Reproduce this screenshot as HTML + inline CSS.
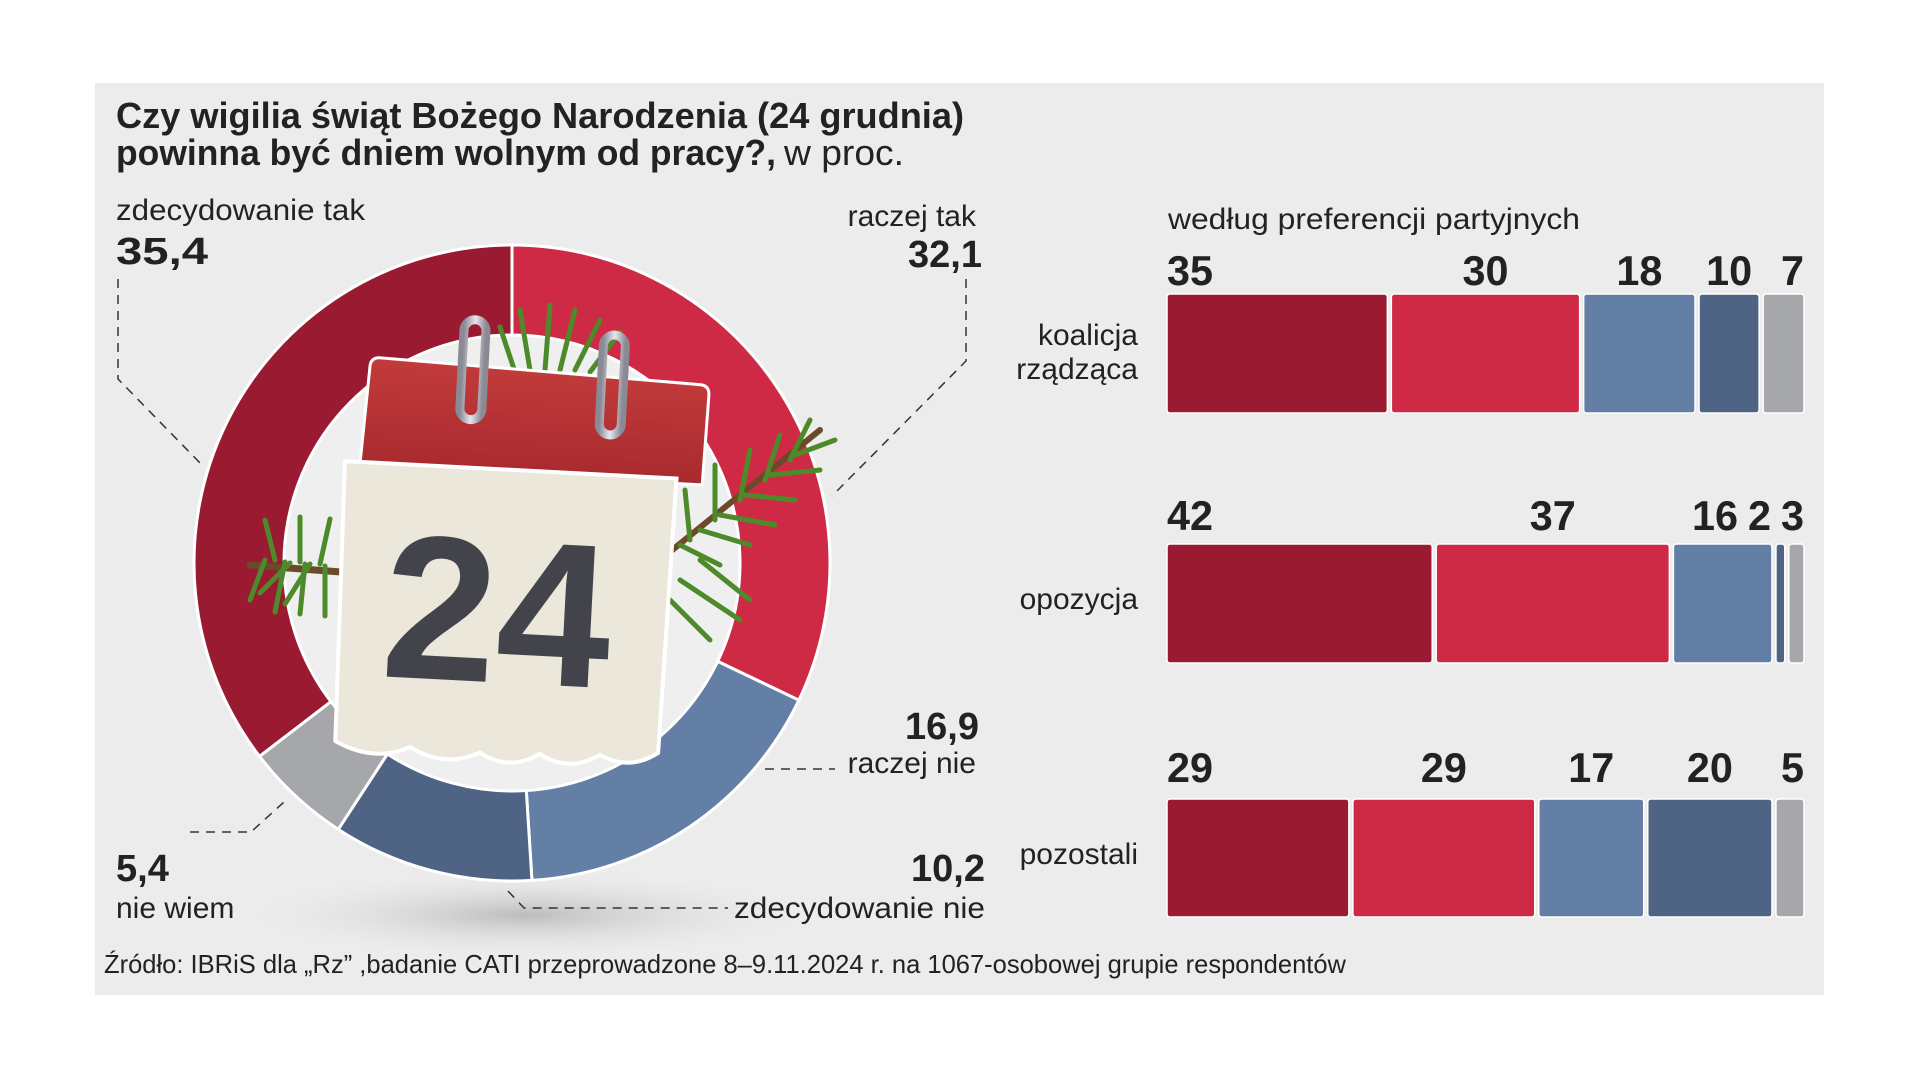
<!DOCTYPE html>
<html><head><meta charset="utf-8"><style>
html,body{margin:0;padding:0;background:#fff;}
svg{display:block;font-family:"Liberation Sans",sans-serif;}
</style></head><body>
<svg id="chart" width="1919" height="1080" viewBox="0 0 1919 1080">
<defs>
<radialGradient id="shadow" cx="0.5" cy="0.5" r="0.5"><stop offset="0" stop-color="#bcbcbc"/><stop offset="1" stop-color="#ececec" stop-opacity="0"/></radialGradient>
<linearGradient id="hdr" x1="0" y1="0" x2="0" y2="1"><stop offset="0" stop-color="#c33b3b"/><stop offset="1" stop-color="#a82a2e"/></linearGradient>
<linearGradient id="ring" x1="0" y1="0" x2="1" y2="0"><stop offset="0" stop-color="#8a8a95"/><stop offset="0.5" stop-color="#e6e6ee"/><stop offset="1" stop-color="#8a8a95"/></linearGradient>
</defs>
<rect x="95" y="83" width="1729" height="912" fill="#ececec"/>
<text x="116" y="128" font-size="36" font-weight="bold" fill="#222" textLength="848" lengthAdjust="spacingAndGlyphs">Czy wigilia świąt Bożego Narodzenia (24 grudnia)</text>
<text x="116" y="165" font-size="36" fill="#222"><tspan font-weight="bold" textLength="660" lengthAdjust="spacingAndGlyphs">powinna być dniem wolnym od pracy?,</tspan><tspan dx="8" textLength="120" lengthAdjust="spacingAndGlyphs">w proc.</tspan></text>
<ellipse cx="526" cy="915" rx="300" ry="45" fill="url(#shadow)"/>
<g id="donut"></g>
<g id="calendar">
 <g stroke="#4d8a2a" stroke-width="5" stroke-linecap="round" fill="none">
  <path d="M250 565 L380 575" stroke="#6b4a2a" stroke-width="7"/>
  <path d="M265 560 l-15 40 M285 562 l-10 50 M305 564 l-5 50 M325 566 l0 50 M275 560 l-10 -40 M300 562 l0 -45 M320 564 l10 -45 M345 566 l10 -40 M290 563 l-30 30 M310 564 l-25 40"/>
  <path d="M660 560 L820 430" stroke="#6b4a2a" stroke-width="6"/>
  <path d="M680 545 l40 20 M700 530 l50 15 M720 515 l55 10 M745 495 l50 5 M770 475 l50 -5 M795 455 l40 -15 M690 540 l-5 -50 M715 520 l0 -55 M740 500 l10 -50 M765 480 l15 -45 M790 460 l20 -40 M700 560 l50 40 M680 580 l60 40 M670 600 l40 40"/>
  <path d="M530 370 l-10 -60 M545 370 l5 -65 M560 370 l15 -60 M575 370 l25 -50 M590 372 l30 -40 M515 372 l-15 -45"/>
 </g>
 <g transform="rotate(3 512 560)">
  <path d="M360 375 Q360 365 370 365 L690 375 Q700 375 700 385 L698 475 L355 475 Z" fill="url(#hdr)" stroke="#fff" stroke-width="3"/>
  <path d="M340 470 L672 470 L668 745 Q640 765 610 750 Q580 770 550 752 Q520 772 490 754 Q455 772 420 752 Q385 770 345 750 Z" fill="#ebe7da" stroke="#fff" stroke-width="4"/>
  <rect x="452" y="322" width="22" height="100" rx="11" fill="none" stroke="url(#ring)" stroke-width="9"/>
  <rect x="592" y="330" width="22" height="100" rx="11" fill="none" stroke="url(#ring)" stroke-width="9"/>
  <text x="500" y="683" font-size="205" font-weight="bold" fill="#43434b" text-anchor="middle">24</text>
 </g>
</g>
<g id="callouts" stroke="#333" stroke-width="1.5" stroke-dasharray="9 7" fill="none">
 <polyline points="118,279 118,379 202,465"/>
 <polyline points="966,279 966,361 832,496"/>
 <polyline points="765,769 835,769"/>
 <polyline points="508,891 524,908 728,908"/>
 <polyline points="190,832 251,832 284,802"/>
</g>
<g fill="#222">
 <text x="116" y="220" font-size="30" textLength="249" lengthAdjust="spacingAndGlyphs">zdecydowanie tak</text>
 <text x="116" y="264" font-size="38" font-weight="bold" textLength="92" lengthAdjust="spacingAndGlyphs">35,4</text>
 <text x="976" y="226" font-size="30" text-anchor="end">raczej tak</text>
 <text x="982" y="267" font-size="38" font-weight="bold" text-anchor="end">32,1</text>
 <text x="979" y="739" font-size="38" font-weight="bold" text-anchor="end">16,9</text>
 <text x="976" y="773" font-size="30" text-anchor="end">raczej nie</text>
 <text x="985" y="881" font-size="38" font-weight="bold" text-anchor="end">10,2</text>
 <text x="985" y="918" font-size="30" text-anchor="end" textLength="251" lengthAdjust="spacingAndGlyphs">zdecydowanie nie</text>
 <text x="116" y="881" font-size="38" font-weight="bold">5,4</text>
 <text x="116" y="918" font-size="30">nie wiem</text>
 <text x="1168" y="229" font-size="30" textLength="412" lengthAdjust="spacingAndGlyphs">według preferencji partyjnych</text>
 <text x="104" y="973" font-size="26" textLength="1242" lengthAdjust="spacingAndGlyphs">Źródło: IBRiS dla „Rz” ,badanie CATI przeprowadzone 8–9.11.2024 r. na 1067-osobowej grupie respondentów</text>
</g>
<g id="bars"></g>
</svg>
<script>
// Donut data (clockwise from top)
const donutCategories = ["raczej tak","raczej nie","zdecydowanie nie","nie wiem","zdecydowanie tak"];
const donutValues = [32.1, 16.9, 10.2, 5.4, 35.4];
// Bar data
const barGroups = ["koalicja rządząca","opozycja","pozostali"];
const barSeriesNames = ["zdecydowanie tak","raczej tak","raczej nie","zdecydowanie nie","nie wiem"];
const barKoalicja = [35, 30, 18, 10, 7];
const barOpozycja = [42, 37, 16, 2, 3];
const barPozostali = [29, 29, 17, 20, 5];

const NS = "http://www.w3.org/2000/svg";
const donutColors = ["#cf2a45","#637fa6","#4f6385","#a6a7ab","#9a1a31"];
const barColors = ["#9a1a31","#cf2a45","#637fa6","#4f6385","#a6a7ab"];
function mk(tag, attrs, parent){const e=document.createElementNS(NS,tag);for(const k in attrs)e.setAttribute(k,attrs[k]);parent.appendChild(e);return e;}

// donut
const cx=512, cy=563, R=318, r=228;
const dg=document.getElementById('donut');
const total=donutValues.reduce((a,b)=>a+b,0);
function pt(rad,a){return [cx+rad*Math.sin(a), cy-rad*Math.cos(a)];}
let acc=0;
donutValues.forEach((v,i)=>{
  const a0=acc/total*2*Math.PI; acc+=v; const a1=acc/total*2*Math.PI;
  const lg=(a1-a0)>Math.PI?1:0;
  const [x0,y0]=pt(R,a0),[x1,y1]=pt(R,a1),[x2,y2]=pt(r,a1),[x3,y3]=pt(r,a0);
  const p=mk('path',{d:`M${x0} ${y0} A${R} ${R} 0 ${lg} 1 ${x1} ${y1} L${x2} ${y2} A${r} ${r} 0 ${lg} 0 ${x3} ${y3} Z`,fill:donutColors[i],stroke:'#fff','stroke-width':3},dg);
  
  
});
mk('circle',{cx:cx,cy:cy,r:r-2,fill:'#efefef'},dg);

// bars
const bg=document.getElementById('bars');
const x0=1167, W=641, gap=4;
const rows=[barKoalicja,barOpozycja,barPozostali];
const rowTop=[294,544,799], rowH=[119,119,118];
const numY=[285,530,782];
const labelLines=[["koalicja","rządząca"],["opozycja"],["pozostali"]];
const labelY=[[345,379],[609],[864]];
function xs(v,tot){return v/tot*W;}
rows.forEach((vals,ri)=>{
  const tot=vals.reduce((a,b)=>a+b,0);
  let cum=0; const segs=[];
  vals.forEach((v,i)=>{
    const sx=x0+xs(cum,tot); cum+=v; const ex=x0+xs(cum,tot);
    const w=Math.max(ex-sx-gap,4);
    const rc=mk('rect',{x:sx,y:rowTop[ri],width:w,height:rowH[ri],rx:3,fill:barColors[i],stroke:'#fff','stroke-width':1.5},bg);
    
    
    segs.push([sx,sx+w]);
  });
  const cw=23, n=vals.length; const pos=[];
  vals.forEach((v,i)=>{
    const wd=String(v).length*cw;
    let l;
    if(i===0) l=segs[0][0];
    else if(i===n-1) l=segs[i][1]-wd;
    else l=(segs[i][0]+segs[i][1])/2-wd/2;
    pos.push([l,wd]);
  });
  for(let i=n-2;i>0;i--){ if(pos[i][0]+pos[i][1]>pos[i+1][0]-10) pos[i][0]=pos[i+1][0]-10-pos[i][1]; }
  vals.forEach((v,i)=>{
    const t=mk('text',{x:pos[i][0],y:numY[ri],'font-size':42,'font-weight':'bold',fill:'#222',textLength:pos[i][1],lengthAdjust:'spacingAndGlyphs'},bg);
    t.textContent=v;
    
    
  });
  labelLines[ri].forEach((s,k)=>{
    const t=mk('text',{x:1138,y:labelY[ri][k],'font-size':30,fill:'#222','text-anchor':'end'},bg);
    t.textContent=s;
    
    
  });
});
</script>
</body></html>
